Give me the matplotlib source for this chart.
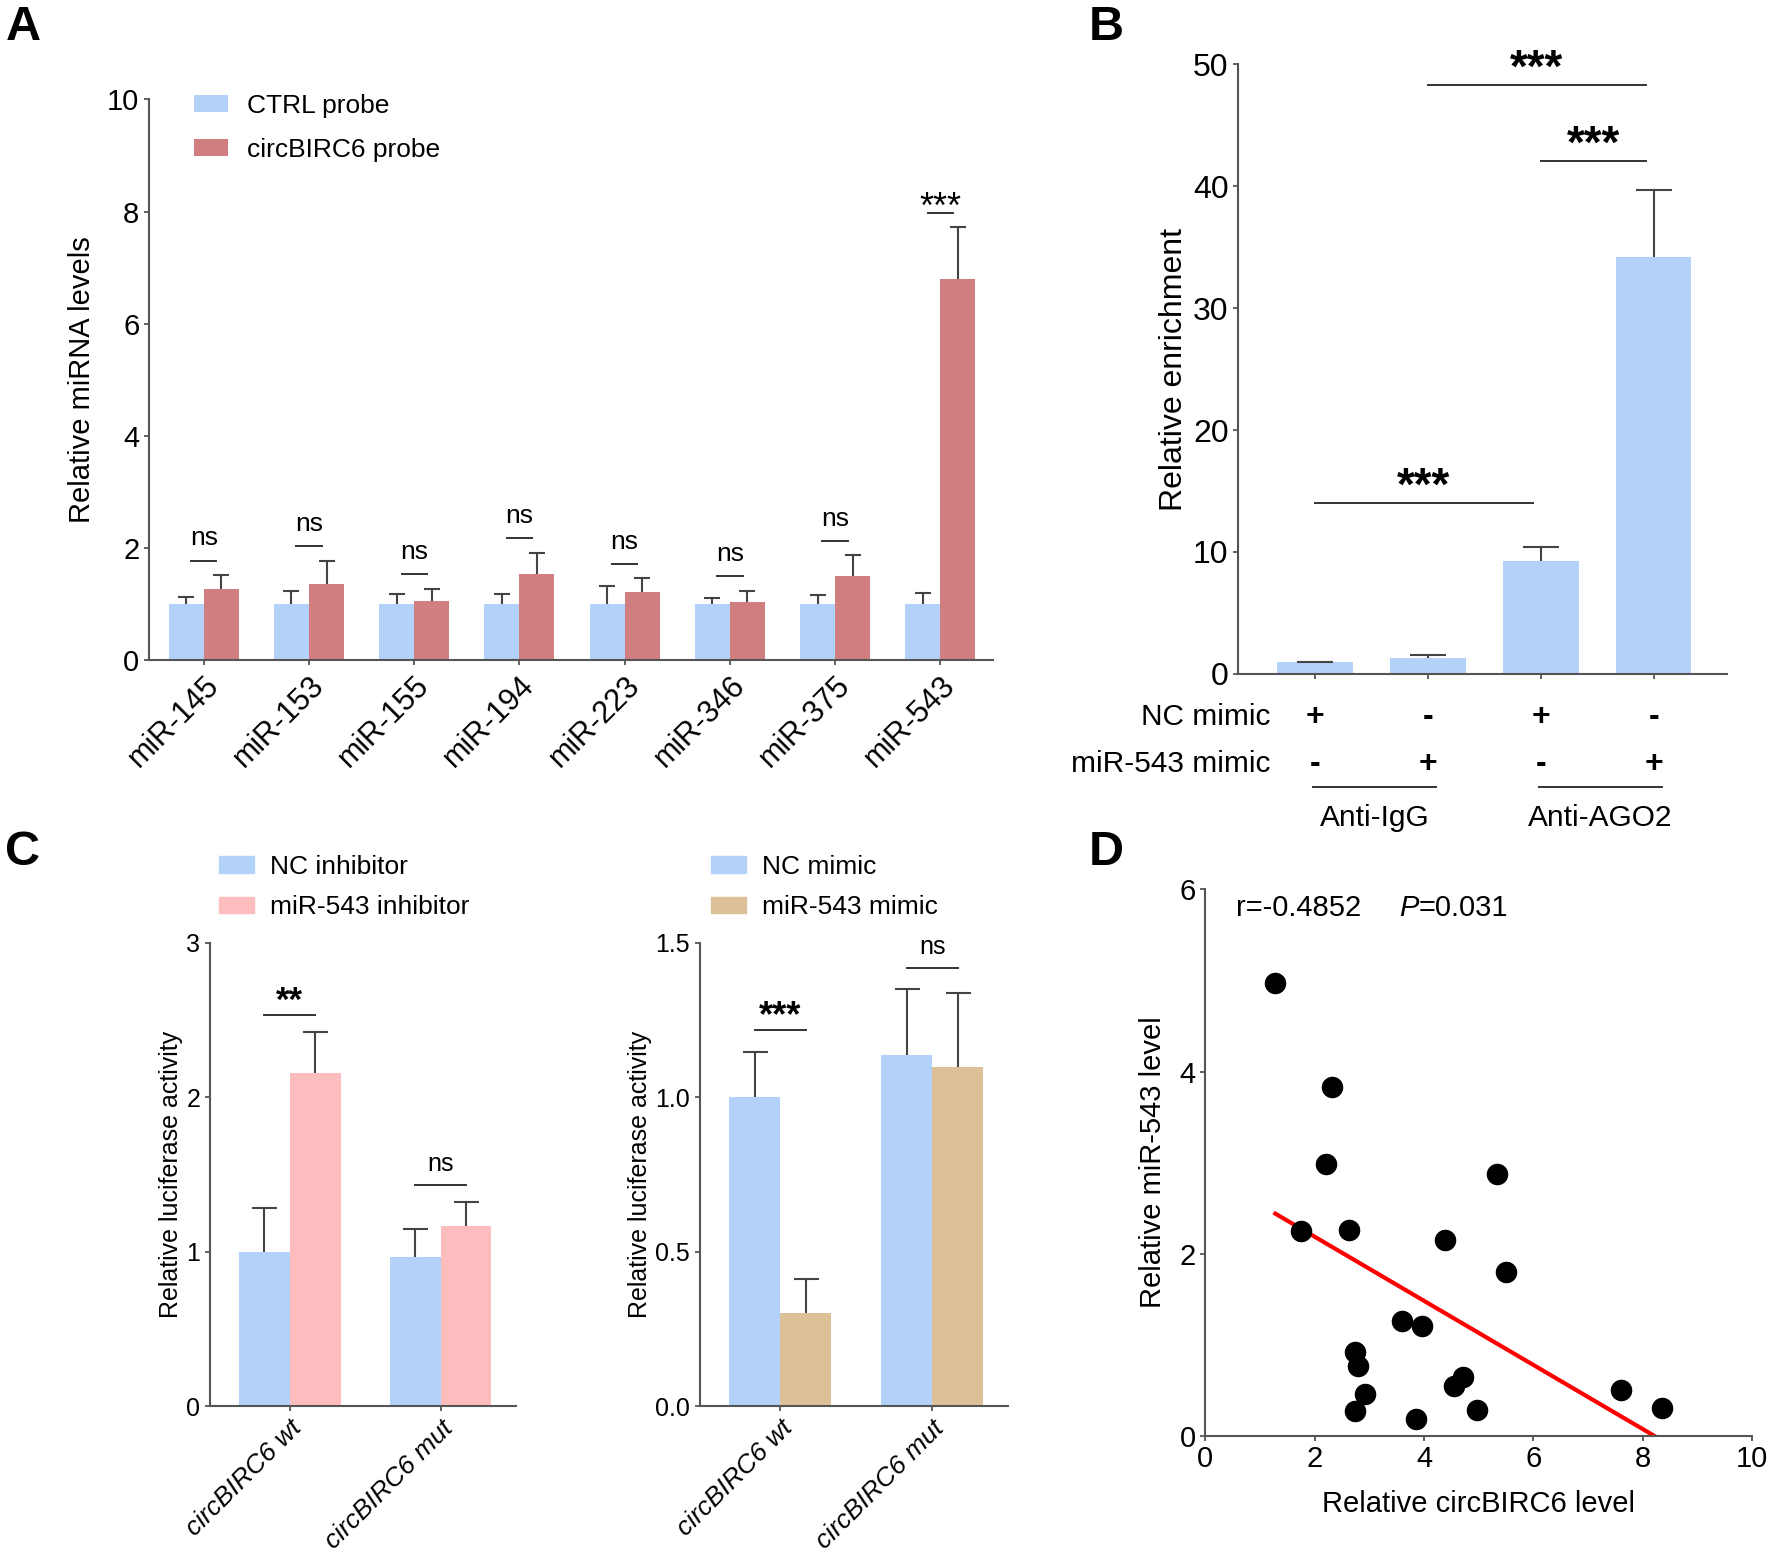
import numpy as np
import matplotlib
matplotlib.use("Agg")
import matplotlib.pyplot as plt
from matplotlib.patches import Patch

plt.rcParams.update({
    'font.family': ['Liberation Sans', 'DejaVu Sans'],
    'axes.linewidth': 1.5,
    'axes.edgecolor': '#555555',
    'xtick.color': '#555555',
    'ytick.color': '#555555',
    'xtick.labelcolor': 'black',
    'ytick.labelcolor': 'black',
    'xtick.major.width': 1.3,
    'ytick.major.width': 1.3,
    'xtick.major.size': 3.5,
    'ytick.major.size': 3.5,
})

# ---- data: panel A (RNA pull-down) ----
mirnas = ['miR-145', 'miR-153', 'miR-155', 'miR-194', 'miR-223', 'miR-346', 'miR-375', 'miR-543']
ctrl_mean = [1.0, 1.0, 1.0, 1.0, 1.0, 1.0, 1.0, 1.0]
ctrl_sd = [0.13, 0.23, 0.19, 0.19, 0.33, 0.11, 0.17, 0.20]
circ_mean = [1.27, 1.37, 1.06, 1.54, 1.21, 1.04, 1.51, 6.80]
circ_sd = [0.25, 0.41, 0.22, 0.38, 0.25, 0.20, 0.36, 0.92]
sig_a = ['ns', 'ns', 'ns', 'ns', 'ns', 'ns', 'ns', '***']

# ---- data: panel B (RIP) ----
rip_mean = [1.0, 1.3, 9.26, 34.2]
rip_sd = [0.0, 0.27, 1.17, 5.5]
nc_mimic = ['+', '-', '+', '-']
mir_mimic = ['-', '+', '-', '+']
rip_groups = ['Anti-IgG', 'Anti-AGO2']

# ---- data: panel C (luciferase) ----
reporters = ['circBIRC6 wt', 'circBIRC6 mut']
nc_inh_mean = [1.0, 0.966]
nc_inh_sd = [0.28, 0.18]
inh_mean = [2.156, 1.166]
inh_sd = [0.265, 0.155]
sig_c1 = ['**', 'ns']
nc_mim_mean = [1.0, 1.137]
nc_mim_sd = [0.147, 0.212]
mim_mean = [0.302, 1.098]
mim_sd = [0.111, 0.240]
sig_c2 = ['***', 'ns']

# ---- data: panel D (correlation) ----
circ_level = [1.28, 2.32, 2.20, 1.75, 2.62, 5.34, 4.39, 5.50, 3.59, 3.97,
              2.73, 2.80, 2.92, 2.74, 3.86, 4.71, 4.55, 4.97, 7.61, 8.36]
mir_level = [4.97, 3.83, 2.98, 2.25, 2.26, 2.87, 2.15, 1.80, 1.26, 1.20,
             0.92, 0.77, 0.46, 0.27, 0.18, 0.64, 0.55, 0.28, 0.50, 0.31]
fit_slope = -0.352
fit_intercept = 2.89

BLUE = '#b3d2fa'
RED = '#d07e7f'
PINK = '#fdbcbd'
TAN = '#dcc097'
EC = '#444444'

fig = plt.figure(figsize=(17.7, 15.52), dpi=100)


def style(ax):
    ax.spines['top'].set_visible(False)
    ax.spines['right'].set_visible(False)
    ax.tick_params(direction='out')


def upper_err(ax, x, m, sd, cap):
    eb = ax.errorbar(x, m, yerr=[np.zeros(len(sd)), sd], fmt='none', ecolor=EC,
                     elinewidth=1.5, capsize=cap, capthick=1.5, zorder=3)
    eb[1][0].set_visible(False)  # drop the cap on the bar top


# ================= Panel A =================
axA = fig.add_axes([0.0842, 0.5745, 0.4768, 0.3615])
style(axA)
x = np.arange(len(mirnas))
bw = 0.333
axA.bar(x - bw / 2, ctrl_mean, bw, color=BLUE, label='CTRL probe', zorder=2)
axA.bar(x + bw / 2, circ_mean, bw, color=RED, label='circBIRC6 probe', zorder=2)
upper_err(axA, x - bw / 2, ctrl_mean, ctrl_sd, 6)
upper_err(axA, x + bw / 2, circ_mean, circ_sd, 6)
for i, s in enumerate(sig_a):
    top = max(ctrl_mean[i] + ctrl_sd[i], circ_mean[i] + circ_sd[i]) + 0.26
    axA.plot([x[i] - 0.12, x[i] + 0.12], [top, top], color='#333333', lw=1.4)
    if s == 'ns':
        axA.annotate(s, (x[i], top), xytext=(0, 11), textcoords='offset points',
                     ha='center', va='baseline', fontsize=19)
    else:
        axA.annotate(s, (x[i], top), xytext=(0, -4), textcoords='offset points',
                     ha='center', va='baseline', fontsize=26)
axA.set_xlim(-0.52, 7.5)
axA.set_ylim(0, 10)
axA.set_yticks([0, 2, 4, 6, 8, 10])
axA.set_xticks(x)
axA.set_xticklabels(mirnas, rotation=45, ha='right', rotation_mode='anchor', fontsize=22)
axA.tick_params(axis='y', labelsize=21)
axA.set_ylabel('Relative miRNA levels', fontsize=21, labelpad=8)
axA.legend(loc='upper left', bbox_to_anchor=(0.025, 1.052), frameon=False, fontsize=19,
           handlelength=1.3, handleheight=0.6, handletextpad=0.7, labelspacing=0.76)

# ================= Panel B =================
axB = fig.add_axes([0.6996, 0.5658, 0.2762, 0.3927])
style(axB)
xb = np.arange(len(rip_mean))
axB.bar(xb, rip_mean, 0.667, color=BLUE, zorder=2)
upper_err(axB, xb, rip_mean, rip_sd, 13)
axB.set_xlim(-0.68, 3.65)
axB.set_ylim(0, 50)
axB.set_yticks(range(0, 51, 10))
axB.set_xticks(xb)
axB.set_xticklabels([])
axB.tick_params(axis='y', labelsize=23)
axB.set_ylabel('Relative enrichment', fontsize=23, labelpad=3)
for (i, j, h) in [(0, 2, 14.0), (2, 3, 42.1), (1, 3, 48.3)]:
    axB.plot([xb[i], xb[j] - 0.07], [h, h], color='#333333', lw=1.4)
    axB.annotate('***', ((xb[i] + xb[j] - 0.07) / 2, h), xytext=(0, 2.4),
                 textcoords='offset points', ha='center', va='baseline',
                 fontsize=33, fontweight='bold')
tb = axB.get_xaxis_transform()
axB.text(-0.40, -0.07, 'NC mimic', transform=tb, ha='right', va='center', fontsize=21.5)
axB.text(-0.40, -0.148, 'miR-543 mimic', transform=tb, ha='right', va='center', fontsize=21.5)
for i in range(len(xb)):
    axB.text(xb[i], -0.07, nc_mimic[i], transform=tb, ha='center', va='center',
             fontsize=23, fontweight='bold')
    axB.text(xb[i], -0.148, mir_mimic[i], transform=tb, ha='center', va='center',
             fontsize=23, fontweight='bold')
for g, name in enumerate(rip_groups):
    x0, x1 = xb[2 * g] - 0.02, xb[2 * g + 1] + 0.07
    axB.plot([x0, x1], [-0.185, -0.185], transform=tb, color='#333333', lw=1.4,
             clip_on=False)
    axB.text((x0 + x1) / 2, -0.237, name, transform=tb, ha='center', va='center',
             fontsize=21.5)


# ================= Panel C =================
def luc_panel(ax, m1, s1, m2, s2, c2, sig, ymax, yticks, fmt, line_off, star_fs):
    style(ax)
    xc = np.arange(len(reporters))
    w = 0.337
    ax.bar(xc - w / 2, m1, w, color=BLUE, zorder=2)
    ax.bar(xc + w / 2, m2, w, color=c2, zorder=2)
    upper_err(ax, xc - w / 2, m1, s1, 9)
    upper_err(ax, xc + w / 2, m2, s2, 9)
    for i, s in enumerate(sig):
        top = max(m1[i] + s1[i], m2[i] + s2[i]) + line_off
        ax.plot([xc[i] - w / 2, xc[i] + w / 2], [top, top], color='#333333', lw=1.4)
        if s == 'ns':
            ax.annotate(s, (xc[i], top), xytext=(0, 10), textcoords='offset points',
                        ha='center', va='baseline', fontsize=18)
        else:
            ax.annotate(s, (xc[i], top), xytext=(0, 3), textcoords='offset points',
                        ha='center', va='baseline', fontsize=star_fs, fontweight='bold')
    ax.set_xlim(-0.53, 1.5)
    ax.set_ylim(0, ymax)
    ax.set_yticks(yticks)
    ax.set_yticklabels([fmt.format(t) for t in yticks])
    ax.set_xticks(xc)
    ax.set_xticklabels(reporters, rotation=45, ha='right', rotation_mode='anchor',
                       fontsize=19, style='italic')
    ax.tick_params(axis='y', labelsize=18)
    ax.set_ylabel('Relative luciferase activity', fontsize=18, labelpad=2)


axC1 = fig.add_axes([0.1186, 0.0938, 0.1729, 0.2989])
luc_panel(axC1, nc_inh_mean, nc_inh_sd, inh_mean, inh_sd, PINK, sig_c1, 3,
          [0, 1, 2, 3], '{:g}', 0.11, 25)
axC2 = fig.add_axes([0.3954, 0.0938, 0.1741, 0.2989])
luc_panel(axC2, nc_mim_mean, nc_mim_sd, mim_mean, mim_sd, TAN, sig_c2, 1.5,
          [0, 0.5, 1.0, 1.5], '{:.1f}', 0.07, 26)

leg_kw = dict(loc='upper left', frameon=False, fontsize=19, handlelength=1.3,
              handleheight=0.6, handletextpad=0.6, labelspacing=0.62, borderaxespad=0)
fig.legend(handles=[Patch(color=BLUE, label='NC inhibitor'),
                    Patch(color=PINK, label='miR-543 inhibitor')],
           bbox_to_anchor=(0.118, 0.456), **leg_kw)
fig.legend(handles=[Patch(color=BLUE, label='NC mimic'),
                    Patch(color=TAN, label='miR-543 mimic')],
           bbox_to_anchor=(0.396, 0.456), **leg_kw)

# ================= Panel D =================
axD = fig.add_axes([0.681, 0.0749, 0.3088, 0.352])
style(axD)
axD.scatter(circ_level, mir_level, s=210, color='black', zorder=3, clip_on=False)
xf = np.array([min(circ_level), max(circ_level)])
axD.plot(xf, fit_intercept + fit_slope * xf, color='red', lw=3, zorder=2)
axD.set_xlim(0, 10)
axD.set_ylim(0, 6)
axD.set_xticks(range(0, 11, 2))
axD.set_yticks(range(0, 7, 2))
axD.tick_params(labelsize=21)
axD.set_xlabel('Relative circBIRC6 level', fontsize=21, labelpad=12)
axD.set_ylabel('Relative miR-543 level', fontsize=21, labelpad=9)
axD.text(0.56, 5.8, 'r=-0.4852', fontsize=21, va='center')
pt = axD.text(3.55, 5.8, 'P', fontsize=21, va='center', style='italic')
axD.annotate('=0.031', xy=(1, 0.5), xycoords=pt, va='center', ha='left', fontsize=21)

# panel letters
for lbl, (fx, fy) in {'A': (0.003, 0.997), 'B': (0.615, 0.997),
                      'C': (0.003, 0.465), 'D': (0.615, 0.465)}.items():
    fig.text(fx, fy, lbl, fontsize=35, fontweight='bold', va='top', ha='left')

fig.savefig('out.png', dpi=100)
